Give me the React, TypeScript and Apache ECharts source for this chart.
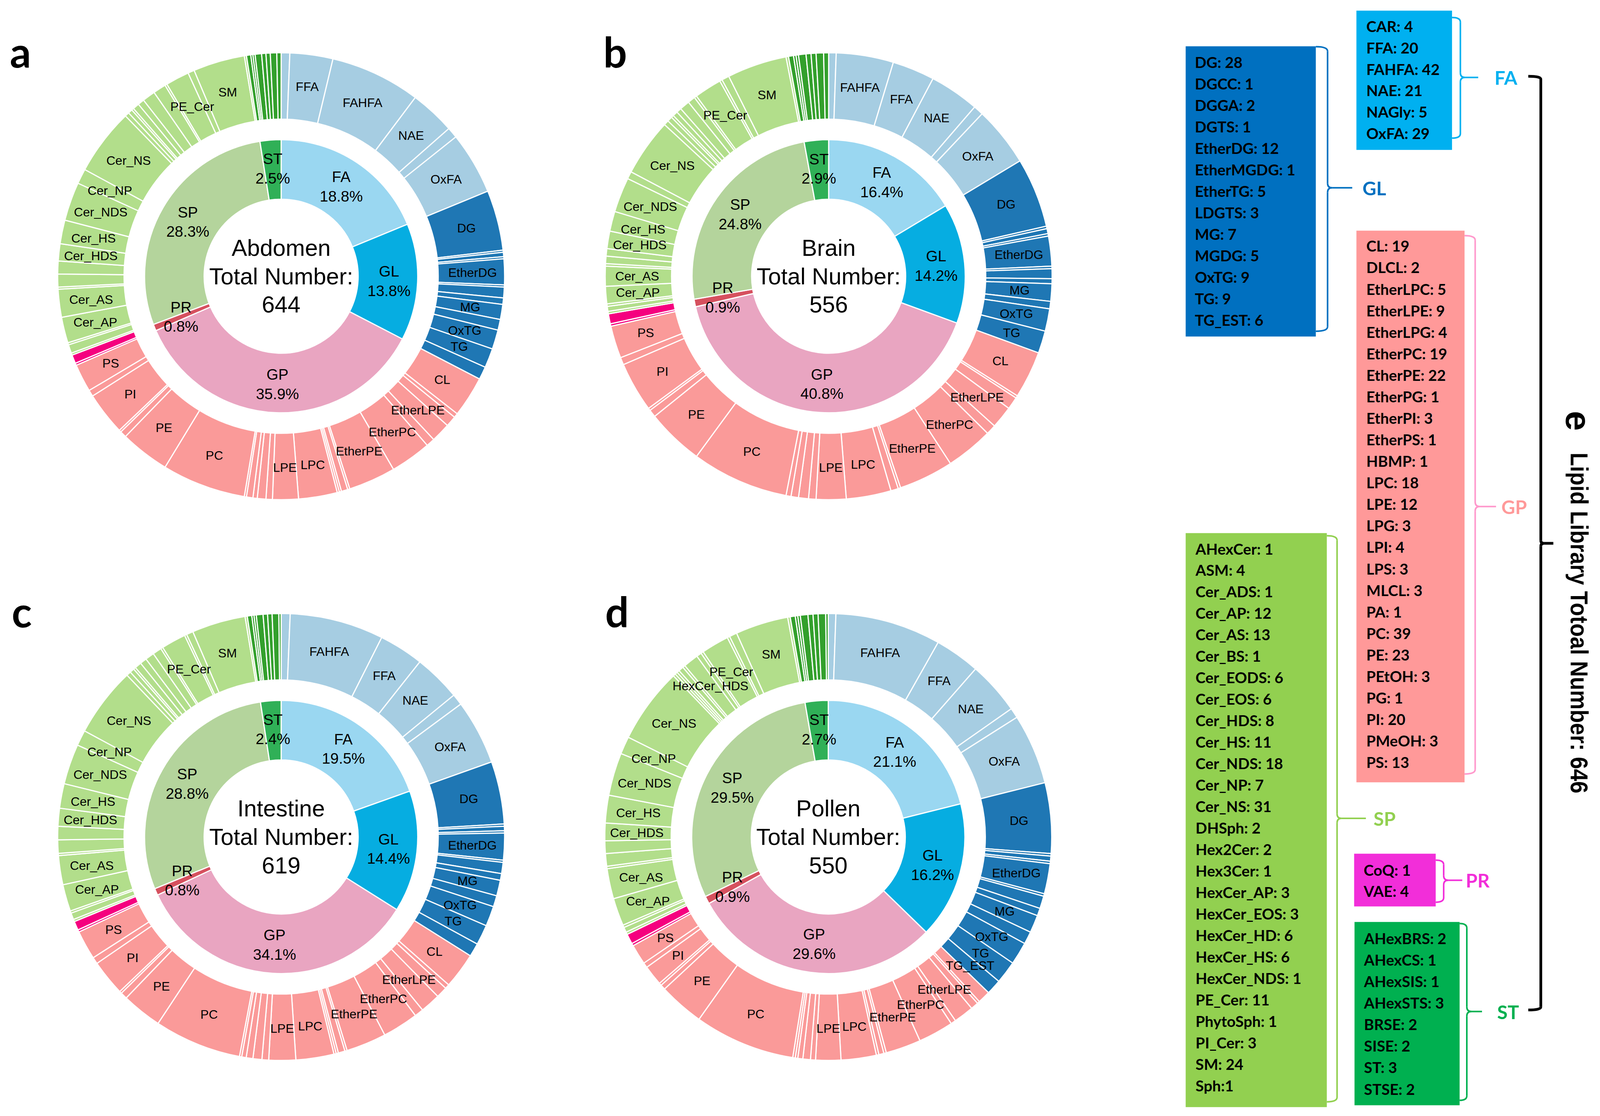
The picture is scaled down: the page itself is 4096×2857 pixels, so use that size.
import React, { useEffect, useRef } from "react";
import * as echarts from "echarts";

const S = 4096 / 4217;
const px = (v: number) => v * S;

// ---------- names (library order) ----------
const FA_NAMES = ["CAR", "FFA", "FAHFA", "NAE", "NAGly", "OxFA"];
const FA_ORDER_ABDOMEN = ["CAR", "FFA", "FAHFA", "NAE", "NAGly", "OxFA"];
const FA_ORDER_OTHER = ["CAR", "FAHFA", "FFA", "NAE", "NAGly", "OxFA"];
const GL_NAMES = ["DG", "DGCC", "DGGA", "DGTS", "EtherDG", "EtherMGDG", "EtherTG", "LDGTS", "MG", "MGDG", "OxTG", "TG", "TG_EST"];
const GP_NAMES = ["CL", "DLCL", "EtherLPC", "EtherLPE", "EtherLPG", "EtherPC", "EtherPE", "EtherPG", "EtherPI", "EtherPS", "HBMP", "LPC", "LPE", "LPG", "LPI", "LPS", "MLCL", "PA", "PC", "PE", "PEtOH", "PG", "PI", "PMeOH", "PS"];
const PR_NAMES = ["CoQ", "VAE"];
const SP_NAMES = ["AHexCer", "ASM", "Cer_ADS", "Cer_AP", "Cer_AS", "Cer_BS", "Cer_EODS", "Cer_EOS", "Cer_HDS", "Cer_HS", "Cer_NDS", "Cer_NP", "Cer_NS", "DHSph", "Hex2Cer", "Hex3Cer", "HexCer_AP", "HexCer_EOS", "HexCer_HD", "HexCer_HS", "HexCer_NDS", "PE_Cer", "PhytoSph", "PI_Cer", "SM", "Sph"];
const ST_NAMES = ["AHexBRS", "AHexCS", "AHexSIS", "AHexSTS", "BRSE", "SISE", "ST", "STSE"];

// ---------- library counts (panel e) ----------
const LIB_FA = [4, 20, 42, 21, 5, 29];
const LIB_GL = [28, 1, 2, 1, 12, 1, 5, 3, 7, 5, 9, 9, 6];
const LIB_GP = [19, 2, 5, 9, 4, 19, 22, 1, 3, 1, 1, 18, 12, 3, 4, 3, 3, 1, 39, 23, 3, 1, 20, 3, 13];
const LIB_PR = [1, 4];
const LIB_SP = [1, 4, 1, 12, 13, 1, 6, 6, 8, 11, 18, 7, 31, 2, 2, 1, 3, 3, 6, 6, 1, 11, 1, 3, 24, 1];
const LIB_ST = [2, 1, 1, 3, 2, 2, 3, 2];

// ---------- tissue counts (library name order) ----------
const abdomenFA = [4, 20, 42, 21, 5, 29];
const abdomenGL = [28, 1, 2, 1, 12, 1, 5, 3, 7, 5, 9, 9, 6];
const abdomenGP = [19, 2, 5, 9, 4, 19, 22, 1, 3, 1, 1, 18, 12, 3, 4, 2, 3, 1, 39, 23, 3, 1, 20, 3, 13];
const abdomenPR = [1, 4];
const abdomenSP = [1, 4, 1, 12, 13, 1, 6, 6, 8, 11, 18, 7, 31, 2, 2, 1, 3, 3, 6, 6, 1, 11, 0, 3, 24, 1];
const abdomenST = [2, 1, 1, 3, 2, 2, 3, 2];

const brainFA = [3, 17, 23, 20, 4, 24];
const brainGL = [28, 1, 2, 1, 12, 1, 4, 2, 7, 3, 9, 9, 0];
const brainGP = [19, 1, 5, 9, 4, 19, 22, 1, 3, 0, 0, 18, 12, 3, 4, 3, 2, 0, 39, 23, 3, 1, 20, 3, 13];
const brainPR = [1, 4];
const brainSP = [1, 2, 1, 7, 8, 1, 3, 3, 7, 8, 14, 3, 23, 2, 2, 1, 2, 2, 4, 3, 1, 11, 1, 3, 24, 1];
const brainST = [2, 1, 1, 3, 2, 2, 3, 2];

const intestineFA = [4, 20, 42, 21, 5, 29];
const intestineGL = [28, 1, 2, 1, 12, 1, 5, 3, 7, 5, 9, 9, 6];
const intestineGP = [16, 2, 5, 9, 4, 16, 18, 1, 3, 1, 1, 17, 12, 3, 4, 3, 2, 1, 39, 18, 3, 1, 16, 3, 13];
const intestinePR = [1, 4];
const intestineSP = [1, 3, 1, 12, 13, 1, 6, 6, 8, 11, 18, 7, 31, 2, 2, 1, 3, 3, 4, 4, 1, 11, 1, 3, 24, 1];
const intestineST = [2, 1, 1, 3, 2, 2, 3, 1];

const pollenFA = [3, 18, 42, 21, 4, 28];
const pollenGL = [28, 1, 2, 1, 12, 1, 5, 3, 7, 5, 9, 9, 6];
const pollenGP = [5, 1, 3, 8, 2, 14, 14, 1, 2, 1, 0, 14, 10, 2, 3, 2, 1, 1, 40, 18, 2, 1, 8, 2, 8];
const pollenPR = [1, 4];
const pollenSP = [1, 2, 1, 11, 12, 1, 5, 5, 7, 11, 17, 7, 30, 1, 1, 1, 2, 1, 6, 2, 1, 11, 1, 3, 21, 1];
const pollenST = [2, 1, 1, 3, 2, 2, 3, 1];

const tissueNames = ["Abdomen", "Brain", "Intestine", "Pollen"];
const panelLetters = ["a", "b", "c", "d"];

const LABELED_BASE = ["FFA", "FAHFA", "NAE", "OxFA", "DG", "EtherDG", "MG", "OxTG", "TG", "CL", "EtherLPE", "EtherPC", "EtherPE", "LPC", "LPE", "PC", "PE", "PI", "PS", "Cer_AP", "Cer_AS", "Cer_HDS", "Cer_HS", "Cer_NDS", "Cer_NP", "Cer_NS", "PE_Cer", "SM"];
const labeledAbdomen = LABELED_BASE;
const labeledBrain = LABELED_BASE.filter((n) => n !== "Cer_NP");
const labeledIntestine = LABELED_BASE;
const labeledPollen = LABELED_BASE.filter((n) => n !== "CL").concat(["TG_EST", "HexCer_HD"]);
const pollenAliases: Record<string, string> = { HexCer_HD: "HexCer_HDS" };

const TISSUE_DATA = [
  { FA: abdomenFA, GL: abdomenGL, GP: abdomenGP, PR: abdomenPR, SP: abdomenSP, ST: abdomenST, faOrder: FA_ORDER_ABDOMEN, labeled: labeledAbdomen, aliases: {} as Record<string, string> },
  { FA: brainFA, GL: brainGL, GP: brainGP, PR: brainPR, SP: brainSP, ST: brainST, faOrder: FA_ORDER_OTHER, labeled: labeledBrain, aliases: {} as Record<string, string> },
  { FA: intestineFA, GL: intestineGL, GP: intestineGP, PR: intestinePR, SP: intestineSP, ST: intestineST, faOrder: FA_ORDER_OTHER, labeled: labeledIntestine, aliases: {} as Record<string, string> },
  { FA: pollenFA, GL: pollenGL, GP: pollenGP, PR: pollenPR, SP: pollenSP, ST: pollenST, faOrder: FA_ORDER_OTHER, labeled: labeledPollen, aliases: pollenAliases },
];

const GROUPS = ["FA", "GL", "GP", "PR", "SP", "ST"];
const CANON: Record<string, string[]> = { FA: FA_NAMES, GL: GL_NAMES, GP: GP_NAMES, PR: PR_NAMES, SP: SP_NAMES, ST: ST_NAMES };
const LIB: Record<string, number[]> = { FA: LIB_FA, GL: LIB_GL, GP: LIB_GP, PR: LIB_PR, SP: LIB_SP, ST: LIB_ST };

// ---------- styles / layout ----------
const INNER_COLORS: Record<string, string> = { FA: "#9AD7F1", GL: "#06ADE1", GP: "#E9A5C1", PR: "#D6505E", SP: "#B4D49C", ST: "#30B057" };
const OUTER_COLORS: Record<string, string> = { FA: "#A6CDE2", GL: "#1F77B4", GP: "#FA9A99", PR: "#F5007F", SP: "#B2DE8B", ST: "#33A02C" };
const BOX_COLORS: Record<string, string> = { FA: "#00B0F0", GL: "#0070C0", GP: "#FF9999", SP: "#92D050", PR: "#F22ED9", ST: "#00B050" };
const BRACE_COLORS: Record<string, string> = { FA: "#00B0F0", GL: "#0070C0", GP: "#FF99CC", SP: "#92D050", PR: "#F22ED9", ST: "#00B050" };
const LABEL_COLORS: Record<string, string> = { FA: "#00B0F0", GL: "#0070C0", GP: "#FF9999", SP: "#92D050", PR: "#F22ED9", ST: "#00B050" };

const CHART_CENTERS = [[741, 728], [2184, 728], [741, 2206], [2183, 2206]];
const LETTER_POS = [[26, 136], [1590, 136], [31, 1611], [1595, 1611]];
const INNER_R = [203, 360];
const OUTER_R = [414, 589];

const LEGEND_LAYOUT: Record<string, any> = {
  FA: { box: [3575, 28, 3827, 395], rows: [3601, 69, 56.4], brace: [3827, 3849, 3896, 46, 204, 364], label: [3939, 204] },
  GL: { box: [3125, 122, 3468, 887], rows: [3149, 163.6, 56.6], brace: [3468, 3499, 3564, 123, 495, 873], label: [3591, 495] },
  GP: { box: [3575, 608, 3860, 2062], rows: [3601, 648, 56.7], brace: [3860, 3888, 3943, 621, 1335, 2040], label: [3957, 1335] },
  SP: { box: [3125, 1405, 3497, 2918], rows: [3151, 1446, 56.6], brace: [3497, 3524, 3600, 1412, 2157, 2904], label: [3620, 2157] },
  PR: { box: [3569, 2250, 3784, 2389], rows: [3594, 2293, 55], brace: [3784, 3805, 3854, 2267, 2320, 2378], label: [3863, 2320] },
  ST: { box: [3570, 2430, 3847, 2913], rows: [3595, 2473, 56.7], brace: [3847, 3866, 3906, 2434, 2666, 2900], label: [3946, 2666] },
};
const BIG_BRACKET = [4028, 4061, 4094, 201, 1432, 2662];

const CHART_FONT = "'Liberation Sans', Arial, sans-serif";
const BOX_FONT = "Lato, 'Open Sans', sans-serif";
const SIDE_FONT = "'Liberation Sans', Arial, sans-serif";

const sum = (a: number[]) => a.reduce((s, v) => s + v, 0);

function textEl(text: string, x: number, y: number, o: any) {
  return {
    type: "text",
    x,
    y,
    rotation: o.rotation || 0,
    scaleX: o.scaleX || 1,
    silent: true,
    style: {
      text,
      fill: o.fill || "#000",
      fontSize: o.fontSize,
      fontWeight: o.fontWeight || "normal",
      fontFamily: o.fontFamily,
      textAlign: o.align || "left",
      textVerticalAlign: "middle",
      align: o.align || "left",
      verticalAlign: "middle",
    },
  };
}

function brace(b: number[], color: string, lw: number, r = 12) {
  const [x0, xv, xt, yT, yM, yB] = b;
  const st = () => ({ stroke: color, lineWidth: lw, fill: null });
  return [
    { type: "bezierCurve", silent: true, shape: { x1: px(x0), y1: px(yT), x2: px(xv), y2: px(yT + r), cpx1: px(xv), cpy1: px(yT) }, style: st() },
    { type: "line", silent: true, shape: { x1: px(xv), y1: px(yT + r), x2: px(xv), y2: px(yM - r) }, style: st() },
    { type: "bezierCurve", silent: true, shape: { x1: px(xv), y1: px(yM - r), x2: px(xv + r), y2: px(yM), cpx1: px(xv), cpy1: px(yM) }, style: st() },
    { type: "bezierCurve", silent: true, shape: { x1: px(xv), y1: px(yM + r), x2: px(xv + r), y2: px(yM), cpx1: px(xv), cpy1: px(yM) }, style: st() },
    { type: "line", silent: true, shape: { x1: px(xv + r), y1: px(yM), x2: px(xt), y2: px(yM) }, style: st() },
    { type: "line", silent: true, shape: { x1: px(xv), y1: px(yM + r), x2: px(xv), y2: px(yB - r) }, style: st() },
    { type: "bezierCurve", silent: true, shape: { x1: px(xv), y1: px(yB - r), x2: px(x0), y2: px(yB), cpx1: px(xv), cpy1: px(yB) }, style: st() },
  ];
}

function buildOption() {
  const series: any[] = [];
  const elements: any[] = [];

  TISSUE_DATA.forEach((t: any, i: number) => {
    const [cx, cy] = CHART_CENTERS[i];
    const total = GROUPS.reduce((s, g) => s + sum(t[g]), 0);

    const innerData = GROUPS.map((g) => ({
      name: g,
      value: sum(t[g]),
      itemStyle: { color: INNER_COLORS[g] },
    }));

    const outerData: any[] = [];
    GROUPS.forEach((g) => {
      const order = g === "FA" ? t.faOrder : CANON[g];
      order.forEach((n: string) => {
        const v = t[g][CANON[g].indexOf(n)];
        if (!v) return;
        outerData.push({
          name: t.aliases[n] || n,
          value: v,
          itemStyle: { color: OUTER_COLORS[g] },
          label: { show: t.labeled.indexOf(n) >= 0 },
        });
      });
    });

    series.push({
      type: "pie",
      center: [px(cx), px(cy)],
      radius: [px(INNER_R[0]), px(INNER_R[1])],
      startAngle: 90,
      clockwise: true,
      avoidLabelOverlap: false,
      silent: true,
      labelLayout: { hideOverlap: false },
      label: {
        show: true,
        position: "inside",
        fontSize: px(40),
        lineHeight: px(51),
        fontFamily: CHART_FONT,
        color: "#000",
        formatter: (p: any) => `${p.name}\n${((p.value / total) * 100).toFixed(1)}%`,
      },
      labelLine: { show: false },
      itemStyle: { borderColor: "#fff", borderWidth: 3 },
      data: innerData,
    });

    series.push({
      type: "pie",
      center: [px(cx), px(cy)],
      radius: [px(OUTER_R[0]), px(OUTER_R[1])],
      startAngle: 90,
      clockwise: true,
      avoidLabelOverlap: false,
      silent: true,
      labelLayout: { hideOverlap: false },
      label: {
        show: true,
        position: "inside",
        fontSize: px(33),
        fontFamily: CHART_FONT,
        color: "#000",
        formatter: "{b}",
      },
      labelLine: { show: false },
      itemStyle: { borderColor: "#fff", borderWidth: 3 },
      data: outerData,
    });

    // center text
    const lines = [tissueNames[i], "Total Number:", String(total)];
    lines.forEach((l, k) => {
      elements.push(textEl(l, px(cx), px(cy + (k - 1) * 75), { fontSize: px(61), fontFamily: CHART_FONT, align: "center" }));
    });

    // panel letter
    const [lx, ly] = LETTER_POS[i];
    elements.push(textEl(panelLetters[i], px(lx), px(ly), { fontSize: px(110), fontWeight: "bold", fontFamily: BOX_FONT }));
  });

  // ---------- legend panel e ----------
  GROUPS.forEach((g) => {
    const L = LEGEND_LAYOUT[g];
    const [bx0, by0, bx1, by1] = L.box;
    elements.push({
      type: "rect",
      silent: true,
      shape: { x: px(bx0), y: px(by0), width: px(bx1 - bx0), height: px(by1 - by0) },
      style: { fill: BOX_COLORS[g] },
    });
    const [tx, ty0, step] = L.rows;
    CANON[g].forEach((n, k) => {
      const v = LIB[g][k];
      const txt = n === "Sph" ? `${n}:${v}` : `${n}: ${v}`;
      elements.push(textEl(txt, px(tx), px(ty0 + k * step), { fontSize: px(40), fontWeight: "bold", fontFamily: BOX_FONT }));
    });
    brace(L.brace, BRACE_COLORS[g], 4).forEach((e) => elements.push(e));
    elements.push(textEl(g, px(L.label[0]), px(L.label[1]), { fontSize: px(50), fontWeight: "bold", fontFamily: BOX_FONT, fill: LABEL_COLORS[g] }));
  });

  brace(BIG_BRACKET, "#000", 7, 8).forEach((e) => elements.push(e));

  const libTotal = GROUPS.reduce((s, g) => s + sum(LIB[g]), 0);
  elements.push(textEl("e", px(4160), px(1083), { fontSize: px(94), fontWeight: "bold", fontFamily: SIDE_FONT, rotation: -Math.PI / 2 }));
  elements.push(
    textEl(`Lipid Library Totoal Number: ${libTotal}`, px(4162), px(1193), {
      fontSize: px(64),
      fontWeight: "bold",
      fontFamily: SIDE_FONT,
      rotation: -Math.PI / 2,
      scaleX: 0.9,
    })
  );

  return {
    animation: false,
    backgroundColor: "#fff",
    series,
    graphic: { elements },
  };
}

export default function App() {
  const ref = useRef<HTMLDivElement>(null);
  useEffect(() => {
    document.body.style.margin = "0";
    const chart = echarts.init(ref.current as HTMLDivElement, undefined, { renderer: "svg" });
    chart.setOption(buildOption() as any);
    return () => chart.dispose();
  }, []);
  return <div ref={ref} style={{ position: "absolute", left: 0, top: 0, width: 4096, height: 2857 }} />;
}
